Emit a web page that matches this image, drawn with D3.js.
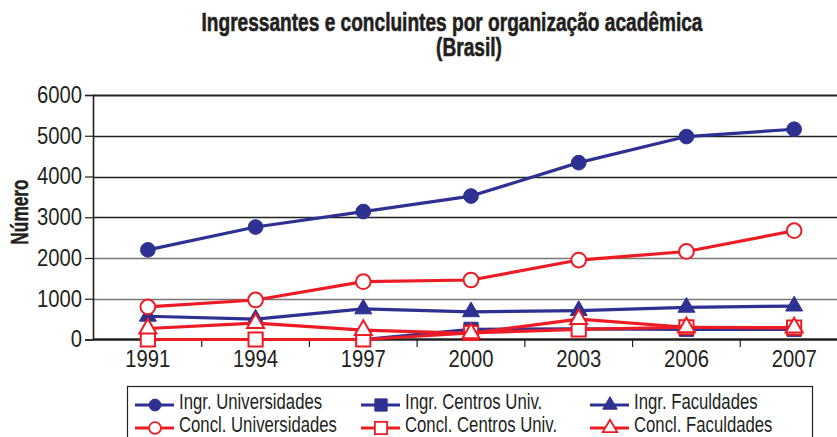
<!DOCTYPE html>
<html>
<head>
<meta charset="utf-8">
<script src="https://cdn.jsdelivr.net/npm/d3@7"></script>
<style>
  body { margin: 0; background: #fff; }
  svg { display: block; font-family: "Liberation Sans", Arial, sans-serif; }
</style>
</head>
<body>
<div class="chart"></div>
<script>
const years = ['1991', '1994', '1997', '2000', '2003', '2006', '2007'];
const yTicks = [0, 1000, 2000, 3000, 4000, 5000, 6000];

const ingrUniv = [2200, 2760, 3140, 3520, 4340, 4980, 5160];
const ingrCentros = [0, 0, 0, 250, 260, 250, 250];
const ingrFacul = [570, 500, 750, 680, 710, 790, 820];
const conclUniv = [800, 970, 1420, 1460, 1950, 2160, 2670];
const conclCentros = [0, 0, 0, 160, 250, 300, 290];
const conclFacul = [270, 400, 230, 150, 500, 300, 290];

const blue = '#2e3192',
      red = '#ed1c24';

const series = [
    { name: 'Ingr. Universidades', values: ingrUniv, color: blue, symbol: d3.symbolCircle, fill: true },
    { name: 'Ingr. Centros Univ.', values: ingrCentros, color: blue, symbol: d3.symbolSquare, fill: true },
    { name: 'Ingr. Faculdades', values: ingrFacul, color: blue, symbol: d3.symbolTriangle, fill: true },
    { name: 'Concl. Universidades', values: conclUniv, color: red, symbol: d3.symbolCircle, fill: false },
    { name: 'Concl. Centros Univ.', values: conclCentros, color: red, symbol: d3.symbolSquare, fill: false },
    { name: 'Concl. Faculdades', values: conclFacul, color: red, symbol: d3.symbolTriangle, fill: false }
];

// squeeze text horizontally, the original uses a condensed face
function condense(sel, k) {
    sel.each(function () {
        const w = this.getComputedTextLength();
        d3.select(this)
            .attr('textLength', w * k)
            .attr('lengthAdjust', 'spacingAndGlyphs');
    });
}

(() => {
    const width = 837,
          height = 437;

    const svg = d3.select('.chart')
        .append('svg')
        .attr('width', width)
        .attr('height', height);

    const x = d3.scaleBand()
        .domain(years)
        .range([94, 848]);

    const y = d3.scaleLinear()
        .domain([0, 6000])
        .range([339.5, 95]);

    // title
    const t1 = svg.append('text')
        .attr('x', 452).attr('y', 31)
        .attr('text-anchor', 'middle')
        .attr('font-weight', 'bold')
        .attr('font-size', 25)
        .attr('fill', '#231f20')
        .attr('stroke', '#231f20')
        .attr('stroke-width', 0.6)
        .text('Ingressantes e concluintes por organização acadêmica');
    const k = 501 / t1.node().getComputedTextLength();
    condense(t1, k);
    const t2 = svg.append('text')
        .attr('x', 469).attr('y', 56)
        .attr('text-anchor', 'middle')
        .attr('font-weight', 'bold')
        .attr('font-size', 25)
        .attr('fill', '#231f20')
        .attr('stroke', '#231f20')
        .attr('stroke-width', 0.6)
        .text('(Brasil)');
    condense(t2, k);

    // gridlines
    svg.append('g')
        .selectAll('line')
        .data(yTicks.slice(1))
        .enter().append('line')
        .attr('x1', 93).attr('x2', 848)
        .attr('y1', d => Math.round(y(d)) + 0.5)
        .attr('y2', d => Math.round(y(d)) + 0.5)
        .attr('stroke', d => d <= 2000 ? '#777' : '#222')
        .attr('stroke-width', d => d === 6000 ? 2.2 : 1.4);

    // y axis
    const yAxis = svg.append('g')
        .attr('transform', 'translate(93,0)')
        .call(d3.axisLeft(y).tickValues(yTicks).tickSize(8).tickPadding(3).tickFormat(d3.format('d')));
    yAxis.select('.domain').attr('stroke', '#231f20').attr('stroke-width', 1.6);
    yAxis.selectAll('.tick line').attr('stroke', '#231f20').attr('stroke-width', 1.2);
    yAxis.selectAll('text')
        .attr('font-size', 23)
        .attr('font-family', null)
        .attr('fill', '#231f20')
        .call(condense, 0.88);

    const yl = svg.append('text')
        .attr('transform', 'translate(28,212) rotate(-90)')
        .attr('text-anchor', 'middle')
        .attr('font-weight', 'bold')
        .attr('font-size', 24)
        .attr('fill', '#231f20')
        .attr('stroke', '#231f20')
        .attr('stroke-width', 0.5)
        .text('Número');
    condense(yl, 0.72);

    // x axis
    const xAxis = svg.append('g')
        .attr('transform', 'translate(0,339.5)')
        .call(d3.axisBottom(x).tickSize(0).tickPadding(11));
    xAxis.select('.domain').remove();
    xAxis.selectAll('text')
        .attr('font-size', 23)
        .attr('font-family', null)
        .attr('fill', '#231f20')
        .call(condense, 0.88);

    svg.append('line')
        .attr('x1', 93).attr('x2', 848)
        .attr('y1', 339.5).attr('y2', 339.5)
        .attr('stroke', '#231f20')
        .attr('stroke-width', 2.4);

    svg.append('g')
        .selectAll('line')
        .data(years.slice(1))
        .enter().append('line')
        .attr('x1', d => x(d)).attr('x2', d => x(d))
        .attr('y1', 340).attr('y2', 347)
        .attr('stroke', '#231f20')
        .attr('stroke-width', 1.2);

    // lines and markers
    const line = d3.line()
        .x((d, i) => x(years[i]) + x.bandwidth() / 2)
        .y(d => y(d));

    const markerSize = s => s === d3.symbolCircle ? 170 : s === d3.symbolSquare ? 200 : 125;

    series.forEach(s => {
        const g = svg.append('g');
        g.append('path')
            .attr('d', line(s.values))
            .attr('fill', 'none')
            .attr('stroke', s.color)
            .attr('stroke-width', 3.2)
            .attr('stroke-linejoin', 'round');
        g.selectAll('path.mark')
            .data(s.values)
            .enter().append('path')
            .attr('class', 'mark')
            .attr('transform', (d, i) => `translate(${x(years[i]) + x.bandwidth() / 2},${y(d)})`)
            .attr('d', d3.symbol().type(s.symbol).size(markerSize(s.symbol)))
            .attr('fill', s.fill ? s.color : '#fff')
            .attr('stroke', s.color)
            .attr('stroke-width', s.fill ? 1 : 2);
    });

    // legend
    const legend = svg.append('g');
    legend.append('rect')
        .attr('x', 127.5).attr('y', 386.5)
        .attr('width', 685).attr('height', 70)
        .attr('fill', '#fff')
        .attr('stroke', '#231f20')
        .attr('stroke-width', 1.2);

    const colX = [135, 361, 590];
    const rowY = [405, 428];

    series.forEach((s, i) => {
        const cx = colX[i % 3],
              cy = rowY[Math.floor(i / 3)];
        const item = legend.append('g');
        item.append('line')
            .attr('x1', cx).attr('x2', cx + 39)
            .attr('y1', cy).attr('y2', cy)
            .attr('stroke', s.color)
            .attr('stroke-width', 3);
        item.append('path')
            .attr('transform', `translate(${cx + 20},${cy})`)
            .attr('d', d3.symbol().type(s.symbol).size(s.symbol === d3.symbolTriangle ? 90 : s.symbol === d3.symbolSquare ? 150 : 110))
            .attr('fill', s.fill ? s.color : '#fff')
            .attr('stroke', s.color)
            .attr('stroke-width', s.fill ? 1 : 1.8);
        item.append('text')
            .attr('x', cx + 44).attr('y', cy + 4)
            .attr('font-size', 22)
            .attr('fill', '#231f20')
            .text(s.name)
            .call(condense, 0.76);
    });
})();
</script>
</body>
</html>
